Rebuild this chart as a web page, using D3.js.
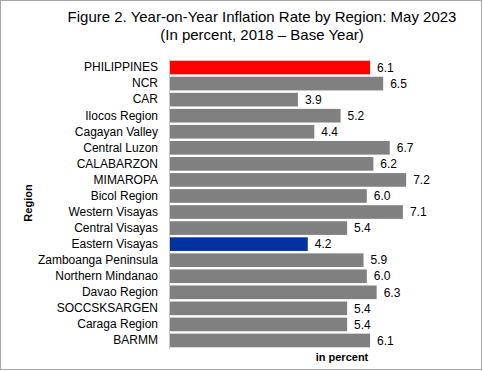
<!DOCTYPE html>
<html>
<head>
<meta charset="utf-8">
<script src="https://cdn.jsdelivr.net/npm/d3@7"></script>
<style>
  body { margin: 0; background: #fff; }
  text { font-family: "Liberation Sans", Arial, sans-serif; fill: #000; }
</style>
</head>
<body>
<div id="chart"></div>
<script>
const width = 483, height = 371;

const regions = ['PHILIPPINES', 'NCR', 'CAR', 'Ilocos Region', 'Cagayan Valley', 'Central Luzon',
  'CALABARZON', 'MIMAROPA', 'Bicol Region', 'Western Visayas', 'Central Visayas', 'Eastern Visayas',
  'Zamboanga Peninsula', 'Northern Mindanao', 'Davao Region', 'SOCCSKSARGEN', 'Caraga Region', 'BARMM']
const rates = [6.1, 6.5, 3.9, 5.2, 4.4, 6.7, 6.2, 7.2, 6.0, 7.1, 5.4, 4.2, 5.9, 6.0, 6.3, 5.4, 5.4, 6.1]
const highlight = { 'PHILIPPINES': '#ff0000', 'Eastern Visayas': '#0032a0' }

const data = regions.map((r, i) => ({ region: r, rate: rates[i] }))

const svg = d3.select('#chart').append('svg')
  .attr('width', width)
  .attr('height', height)

svg.append('rect')
  .attr('x', 0.5).attr('y', 0.5)
  .attr('width', 481).attr('height', 369)
  .attr('fill', 'none')
  .attr('stroke', '#a6a6a6')

// title
const title = svg.append('text')
  .attr('text-anchor', 'middle')
  .style('font-size', '15px')
title.append('tspan').attr('x', 262).attr('y', 22)
  .text('Figure 2. Year-on-Year Inflation Rate by Region: May 2023')
title.append('tspan').attr('x', 262).attr('y', 40)
  .text('(In percent, 2018 \u2013 Base Year)')

let x = d3.scaleLinear()
  .domain([0, 8])
  .range([170, 432.4])

let y = d3.scaleBand()
  .domain(regions)
  .range([59.5, 348.5])
  .paddingInner(0.15)
  .paddingOuter(0.075)

svg.append('g')
  .selectAll('rect')
  .data(data)
  .join('rect')
  .attr('x', x(0))
  .attr('y', d => y(d.region))
  .attr('width', d => x(d.rate) - x(0))
  .attr('height', y.bandwidth())
  .attr('fill', d => highlight[d.region] || '#808080')

// category axis
const yAxis = svg.append('g')
  .attr('transform', `translate(${x(0)},0)`)
  .call(d3.axisLeft(y).tickSize(0).tickPadding(12))
yAxis.select('.domain').attr('stroke', '#c8c8c8').attr('d', 'M-0.5,59.5V349.5')
yAxis.selectAll('text')
  .style('font-size', '12px')
  .style('font-family', '"Liberation Sans", Arial, sans-serif')
  .attr('fill', '#000')

// value labels
svg.append('g')
  .selectAll('text')
  .data(data)
  .join('text')
  .attr('x', d => x(d.rate) + 7)
  .attr('y', d => y(d.region) + y.bandwidth() / 2)
  .attr('dy', '0.35em')
  .style('font-size', '12px')
  .text(d => d3.format('.1f')(d.rate))

svg.append('text')
  .attr('x', 342).attr('y', 361)
  .attr('text-anchor', 'middle')
  .style('font-size', '11px')
  .style('font-weight', 'bold')
  .text('in percent')

svg.append('text')
  .attr('transform', 'translate(32,203) rotate(-90)')
  .attr('text-anchor', 'middle')
  .style('font-size', '11px')
  .style('font-weight', 'bold')
  .text('Region')
</script>
</body>
</html>
